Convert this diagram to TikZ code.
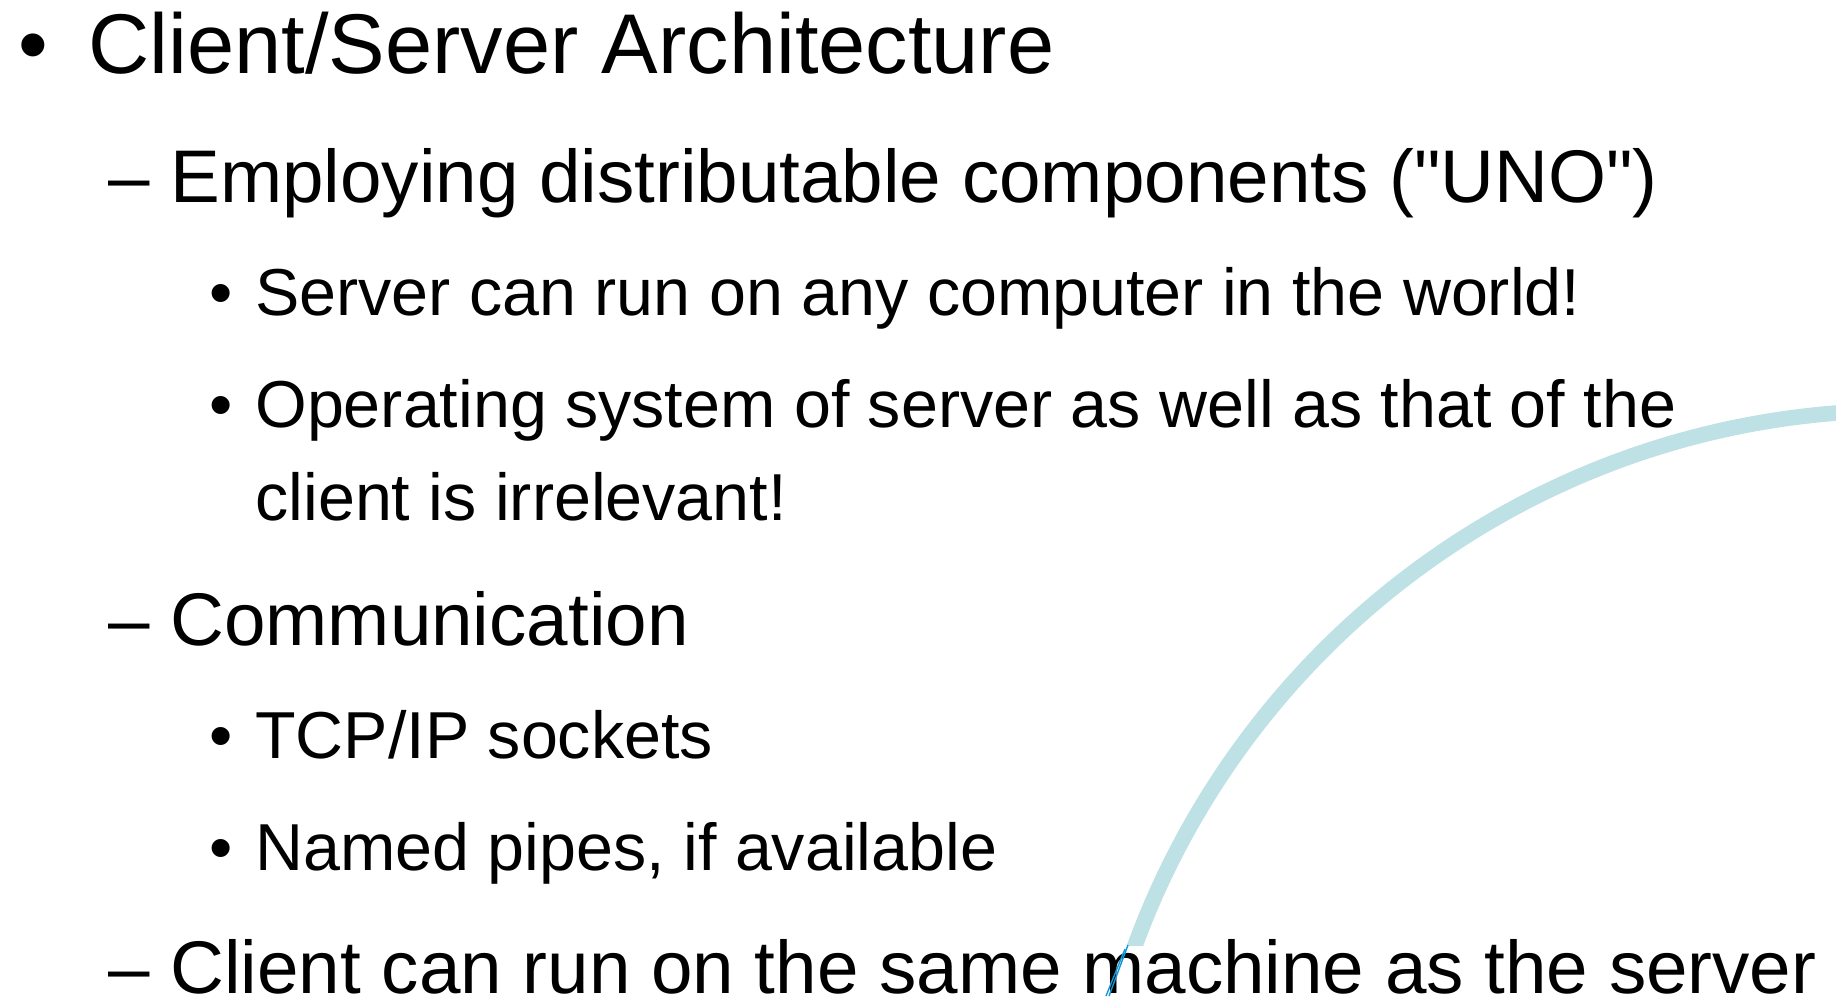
\documentclass[tikz,border=0pt]{standalone}
\usepackage{fontspec}
\setmainfont{Liberation Sans}[Ligatures=TeXOff]
\definecolor{arcteal}{RGB}{189,225,229}
\definecolor{pinblue}{RGB}{20,150,215}
\begin{document}
\begin{tikzpicture}[x=0.5pt,y=-0.5pt,
  lvla/.style={anchor=base west,inner sep=0pt,font=\fontsize{42.4pt}{50pt}\selectfont},
  lvlb/.style={anchor=base west,inner sep=0pt,font=\fontsize{37.3pt}{44pt}\selectfont},
  lvlc/.style={anchor=base west,inner sep=0pt,font=\fontsize{33.2pt}{40pt}\selectfont},
  swoosh/.style={draw=arcteal,line width=7.8pt},
  pin/.style={draw=pinblue,line width=0.7pt}]
\useasboundingbox (0,0) rectangle (1836,996);

% decorative arc in the lower right
\begin{scope}
  \clip (0,0) rectangle (1836,945);
  \draw[swoosh] (1901,1226) circle[radius=815.5];
\end{scope}

% bullet list
\node[lvla] (b1) at (18,73) {•};
\node[lvla] (t1) at (88,73) {Client/Server Architecture};

\node[lvlb] (d2) at (108,202) {–};
\node[lvlb] (t2) at (170,202) {Employing distributable components ("UNO")};

\node[lvlc] (b3) at (209,315) {•};
\node[lvlc] (t3) at (255,315) {Server can run on any computer in the world!};

\node[lvlc] (b4) at (209,427) {•};
\node[lvlc] (t4) at (255,427) {Operating system of server as well as that of the};
\node[lvlc] (t5) at (255,520) {client is irrelevant!};

\node[lvlb] (d6) at (108,645) {–};
\node[lvlb] (t6) at (170,645) {Communication};

\node[lvlc] (b7) at (209,758) {•};
\node[lvlc] (t7) at (255,758) {TCP/IP sockets};

\node[lvlc] (b8) at (209,870) {•};
\node[lvlc] (t8) at (255,870) {Named pipes, if available};

\node[lvlb] (d9) at (108,993) {–};
\node[lvlb] (t9) at (170,993) {Client can run on the same machine as the server};

% thin blue strokes below the end of the arc
\coordinate (p1) at (1128,945);
\coordinate (p2) at (1109,996);
\coordinate (q1) at (1125,949);
\coordinate (q2) at (1106,996);
\draw[pin] (p1) -- (p2);
\draw[pin] (q1) -- (q2);
\end{tikzpicture}
\end{document}
